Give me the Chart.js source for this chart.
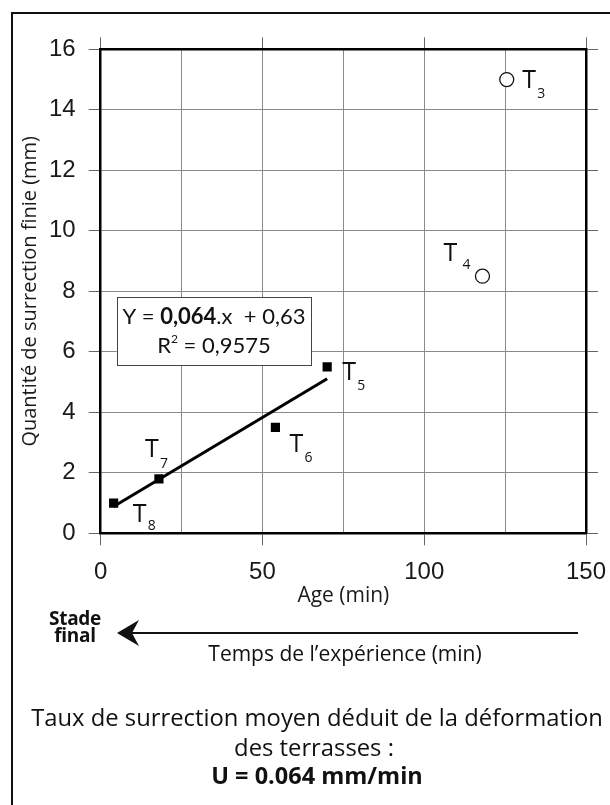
<!DOCTYPE html>
<html lang="fr">
<head>
<meta charset="utf-8">
<script src="https://cdn.jsdelivr.net/npm/chart.js@4.4.1/dist/chart.umd.min.js"></script>
<style>
  body { margin: 0; background: #fff; }
  .page { position: relative; width: 610px; height: 805px; overflow: hidden; }
  .frame { position: absolute; left: 11px; top: 12px; width: 660px; height: 860px; border: 2px solid #111; }
  canvas { position: absolute; left: 0; top: 0; }
  .txt { position: absolute; font-family: "Open Sans", sans-serif; color: #111; white-space: nowrap; text-align: center; line-height: 1.2; }
</style>
</head>
<body>
<div class="page">
  <div class="frame"></div>
  <canvas id="upliftChart" width="610" height="805"></canvas>
  <div class="txt" style="left:45px; width:60px; top:610px; font-size:19px; font-weight:700; line-height:17px; letter-spacing:-0.3px">Stade<br>final</div>
  <div class="txt" style="left:145px; width:400px; top:641px; font-size:21px">Temps de l’expérience (min)</div>
  <div class="txt" style="left:17px; width:600px; top:703px; font-size:23.8px">Taux de surrection moyen déduit de la déformation</div>
  <div class="txt" style="left:14px; width:600px; top:733px; font-size:23.8px">des terrasses :</div>
  <div class="txt" style="left:17px; width:600px; top:760.5px; font-size:23.5px; font-weight:700">U = 0.064 mm/min</div>
</div>
<script>
// terrasses retenues pour la régression (carrés pleins)
const fitAges = [70, 54, 18, 4];
const fitUplift = [5.5, 3.5, 1.8, 1];
const fitNames = ['5', '6', '7', '8'];
// terrasses écartées (cercles vides)
const otherAges = [125.5, 118];
const otherUplift = [15, 8.5];
const otherNames = ['3', '4'];
// droite de régression
const slope = 0.064;
const intercept = 0.63;
const fitSpan = [4, 70];
const eqText = ['Y = ', '0,064', '.x  + 0,63'];
const r2Text = '0,9575';

// décalage des étiquettes T (px) : [dxT, dyT, dxIndice, dyIndice]
const fitTagPos = [[15, 13, 30, 23], [14, 25, 29, 35], [-14, -22, 1, -11], [19, 19, 34, 27]];
const otherTagPos = [[15.5, 8, 30.5, 18], [-39, -15, -20, -7]];

const toXY = (xs, ys) => xs.map((v, i) => ({ x: v, y: ys[i] }));
const fitLine = fitSpan.map(a => ({ x: a, y: slope * a + intercept }));

const tickFont = { family: 'Liberation Sans', size: 24 };
const gridGray = '#8a8a8a';

const tagPlugin = {
  id: 'tags',
  afterDatasetsDraw(chart) {
    const { ctx, chartArea: ca, scales: { x, y } } = chart;
    ctx.save();
    ctx.beginPath();
    ctx.rect(ca.left, ca.top, ca.width, ca.height);
    ctx.clip();
    ctx.fillStyle = '#111';
    ctx.textBaseline = 'alphabetic';
    ctx.textAlign = 'left';
    const drawTags = (xs, ys, names, pos) => {
      xs.forEach((v, i) => {
        const px = x.getPixelForValue(v), py = y.getPixelForValue(ys[i]);
        const p = pos[i];
        ctx.font = '25px "Open Sans"';
        ctx.fillText('T', px + p[0], py + p[1]);
        ctx.font = '14px "Open Sans"';
        ctx.fillText(names[i], px + p[2], py + p[3]);
      });
    };
    drawTags(fitAges, fitUplift, fitNames, fitTagPos);
    drawTags(otherAges, otherUplift, otherNames, otherTagPos);

    // encadré de l'équation
    const bl = x.getPixelForValue(5), br = x.getPixelForValue(65);
    const bt = y.getPixelForValue(7.8), bb = y.getPixelForValue(5.56);
    ctx.fillStyle = '#fff';
    ctx.fillRect(bl, bt, br - bl, bb - bt);
    ctx.strokeStyle = '#444';
    ctx.lineWidth = 1;
    ctx.strokeRect(Math.round(bl) + 0.5, Math.round(bt) + 0.5, Math.round(br - bl), Math.round(bb - bt));
    ctx.fillStyle = '#111';
    const cx = (bl + br) / 2;
    const fonts = ['22px Lato', 'bold 22px Lato', '22px Lato'];
    let w = 0;
    eqText.forEach((s, i) => { ctx.font = fonts[i]; w += ctx.measureText(s).width; });
    let tx = cx - w / 2;
    eqText.forEach((s, i) => {
      ctx.font = fonts[i];
      ctx.fillText(s, tx, bt + 26.7);
      tx += ctx.measureText(s).width;
    });
    ctx.font = '22px Lato';
    const rest = ' = ' + r2Text;
    const rw = ctx.measureText('R').width, sw = 7, restW = ctx.measureText(rest).width;
    const rx = cx - (rw + sw + restW) / 2;
    ctx.fillText('R', rx, bt + 55.7);
    ctx.font = '12px Lato';
    ctx.fillText('2', rx + rw, bt + 46);
    ctx.font = '22px Lato';
    ctx.fillText(rest, rx + rw + sw, bt + 55.7);
    ctx.restore();
  },
  afterDraw(chart) {
    // flèche du temps de l'expérience
    const { ctx } = chart;
    ctx.save();
    ctx.strokeStyle = '#111';
    ctx.fillStyle = '#111';
    ctx.lineWidth = 2;
    ctx.beginPath();
    ctx.moveTo(578, 633);
    ctx.lineTo(130, 633);
    ctx.stroke();
    ctx.beginPath();
    ctx.moveTo(117, 633);
    ctx.lineTo(139, 620);
    ctx.lineTo(132, 633);
    ctx.lineTo(139, 646);
    ctx.closePath();
    ctx.fill();
    ctx.restore();
  }
};

new Chart(document.getElementById('upliftChart'), {
  type: 'scatter',
  data: {
    datasets: [
      {
        data: fitLine,
        showLine: true,
        borderColor: '#000',
        borderWidth: 3,
        pointRadius: 0,
        order: 3
      },
      {
        data: toXY(fitAges, fitUplift),
        pointStyle: 'rect',
        pointRadius: 6.5,
        backgroundColor: '#000',
        borderColor: '#000',
        borderWidth: 0,
        order: 1
      },
      {
        data: toXY(otherAges, otherUplift),
        pointStyle: 'circle',
        pointRadius: 7,
        backgroundColor: '#fff',
        borderColor: '#111',
        borderWidth: 1.3,
        order: 2
      }
    ]
  },
  options: {
    responsive: false,
    animation: false,
    devicePixelRatio: 1,
    layout: { padding: { left: 0, top: 37.3, right: 12, bottom: 196.7 } },
    plugins: { legend: { display: false }, tooltip: { enabled: false } },
    scales: {
      x: {
        type: 'linear',
        position: 'bottom',
        min: 0,
        max: 150,
        ticks: {
          stepSize: 25,
          autoSkip: false,
          maxRotation: 0,
          padding: 13,
          color: '#1a1a1a',
          font: tickFont,
          callback: v => (v % 50 === 0 ? v : '')
        },
        grid: {
          color: gridGray,
          lineWidth: 1,
          tickLength: 12,
          tickColor: c => (c.tick && c.tick.value % 50 === 0 ? '#666' : 'rgba(0,0,0,0)')
        },
        border: { color: '#000', width: 2.5 },
        title: { display: true, text: 'Age (min)', color: '#1a1a1a', font: { family: 'Open Sans', size: 21 }, padding: 0 },
        afterFit: s => { s.height = 75; s.paddingLeft = 0; s.paddingRight = 0; }
      },
      x2: {
        type: 'linear',
        position: 'top',
        min: 0,
        max: 150,
        ticks: { stepSize: 50, display: false },
        grid: { drawOnChartArea: false, tickLength: 12, tickColor: '#666' },
        border: { color: '#000', width: 2.5 },
        afterFit: s => { s.height = 12; s.paddingLeft = 0; s.paddingRight = 0; }
      },
      y: {
        type: 'linear',
        position: 'left',
        min: 0,
        max: 16,
        ticks: { stepSize: 2, padding: 13, color: '#1a1a1a', font: tickFont },
        grid: { color: gridGray, lineWidth: 1, tickLength: 12, tickColor: '#666' },
        border: { color: '#000', width: 2.5 },
        title: {
          display: true,
          text: 'Quantité de surrection finie (mm)',
          color: '#1a1a1a',
          font: { family: 'Open Sans', size: 20 },
          padding: { top: 18, bottom: 0 }
        },
        afterFit: s => { s.width = 100.7; s.paddingTop = 0; s.paddingBottom = 0; }
      },
      y2: {
        type: 'linear',
        position: 'right',
        min: 0,
        max: 16,
        ticks: { stepSize: 2, display: false },
        grid: { drawOnChartArea: false, tickLength: 12, tickColor: '#666' },
        border: { color: '#000', width: 2.5 },
        afterFit: s => { s.width = 12; s.paddingTop = 0; s.paddingBottom = 0; }
      }
    }
  },
  plugins: [tagPlugin]
});
</script>
</body>
</html>
